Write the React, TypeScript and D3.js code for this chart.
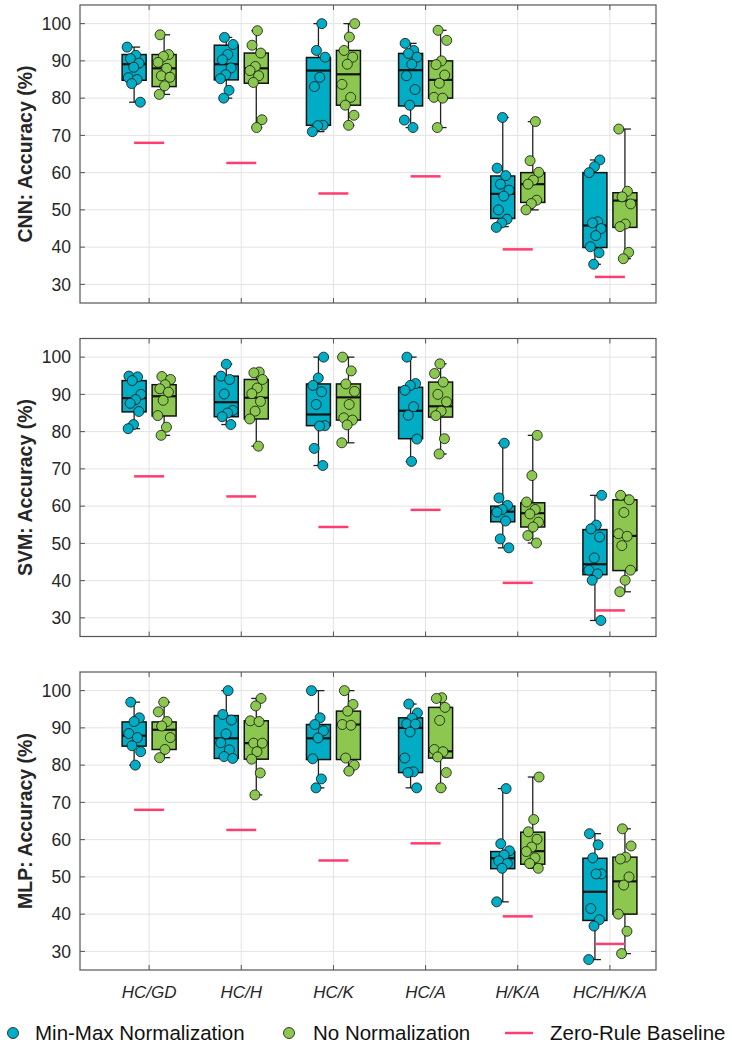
import React from "react";
import * as d3 from "d3";

// categories / models
const categories = ["HC/GD", "HC/H", "HC/K", "HC/A", "H/K/A", "HC/H/K/A"];
const baseline = [68, 62.6, 54.4, 59, 39.4, 32];
const yTicks = [30, 40, 50, 60, 70, 80, 90, 100];

// box stats: [lowWhisker, q1, median, q3, highWhisker]
const cnnMinMaxBox = [
  [78.9, 84.8, 89.1, 91.7, 93.7],
  [80, 84.9, 89.1, 94.2, 96.3],
  [71, 72.7, 87.4, 90.9, 100],
  [72.1, 77.9, 87.5, 92, 94.7],
  [45.5, 47.7, 54.3, 59.1, 74.8],
  [35.4, 39.9, 45.8, 60, 63.4],
];
const cnnNoNormBox = [
  [81, 83.1, 88, 91.7, 97],
  [72.1, 84, 88, 92.1, 98.1],
  [72.7, 78.1, 86.4, 92.8, 100],
  [72.1, 80, 84.9, 90, 98.2],
  [50, 52, 56.9, 60, 73.7],
  [36.9, 45.3, 52.5, 54.6, 71.7],
];
const cnnMinMaxPts = [
  [93.7, 91.5, 90.6, 89.4, 88.3, 85.5, 85, 83.9, 78.9],
  [96.3, 94.4, 91.7, 90.3, 88.1, 86.3, 85.2, 82.1, 80],
  [100, 92.8, 91, 85.6, 83.1, 72.7, 72.6, 71],
  [94.7, 92.8, 92, 91, 89.1, 86, 82.3, 78.1, 74.1, 72.1],
  [74.8, 61.2, 59.2, 56.9, 55.3, 53.7, 50, 47.5, 46.5, 45.3],
  [63.4, 61.6, 60, 46.8, 46.5, 45, 43.1, 40.1, 38.5, 35.4],
];
const cnnNoNormPts = [
  [97, 91.7, 91.2, 89.6, 88, 86, 85.6, 83.3, 81],
  [98.1, 94.2, 92.1, 88.5, 87.4, 86, 84.2, 74.2, 72.1],
  [100, 96.4, 92.8, 91, 89.1, 83.7, 80.2, 78.1, 75.4, 72.7],
  [98.2, 95.5, 90, 89, 86.2, 84, 80.2, 80, 72.1],
  [73.7, 63.2, 60.1, 58, 56.9, 52.6, 51.7, 50],
  [71.7, 55, 53.5, 51.6, 46.2, 45.5, 38.6, 36.9],
];

const svmMinMaxBox = [
  [80.8, 85.3, 89, 93.7, 94.9],
  [81.9, 84, 87.9, 94.9, 98.1],
  [70.9, 81.6, 84.6, 92.8, 100],
  [72, 78.1, 85.6, 91.9, 100],
  [48.8, 55.8, 58.5, 60, 76.9],
  [29.3, 41.6, 44.4, 53.7, 62.9],
];
const svmNoNormBox = [
  [79, 84.2, 89.5, 92.6, 94.8],
  [76.1, 83.4, 89.1, 94, 96],
  [77, 83.1, 89.2, 92.8, 100],
  [74, 83.9, 86.8, 93.3, 98.2],
  [50.1, 54.4, 58.1, 60.9, 79],
  [37, 42.7, 52, 61.7, 62.9],
];
const svmMinMaxPts = [
  [94.9, 94.7, 93.7, 90, 88.6, 87.6, 85.4, 81.9, 80.8],
  [98.1, 94.9, 94, 90.1, 85.7, 85, 84, 81.9],
  [100, 94.4, 92.4, 90.7, 87.3, 81.6, 81.5, 75.5, 70.9],
  [100, 92.9, 92.4, 91.1, 86.7, 84.4, 78, 72],
  [76.9, 62.2, 60.2, 59.1, 58.4, 56, 51.2, 48.8],
  [62.9, 54.9, 53.9, 51.7, 46.1, 42.8, 41.8, 40.1, 29.3],
];
const svmNoNormPts = [
  [94.8, 94, 92.6, 91.5, 90.6, 88.4, 84.3, 81.2, 79],
  [96, 95.8, 94, 91.7, 90.2, 88.1, 85.5, 83.4, 76.1],
  [100, 96.3, 92.8, 90.8, 87.3, 83.7, 83.1, 81.8, 77],
  [98.2, 95.6, 93.3, 90, 88, 85.5, 84.3, 78.1, 74],
  [79, 68.2, 61.1, 59.1, 57.9, 55.7, 54.4, 52.1, 50.1],
  [62.9, 61.7, 58.3, 52.6, 51.9, 49.4, 42.8, 40.1, 37],
];

const mlpMinMaxBox = [
  [80, 85.1, 87.9, 91.6, 96.9],
  [81.8, 81.8, 87.2, 93.3, 100],
  [73.9, 81.5, 87.2, 90.9, 100],
  [73.9, 78, 90, 92.7, 96.4],
  [43.3, 52.2, 55, 56.8, 73.7],
  [27.8, 38.3, 46, 55, 61.6],
];
const mlpNoNormBox = [
  [82, 84.2, 89.5, 91.6, 96.9],
  [72, 81.6, 85.9, 91.9, 97.9],
  [78.4, 81.5, 90.9, 94.5, 100],
  [73.9, 81.9, 83.7, 95.5, 98.1],
  [52.3, 53.4, 56.9, 62, 76.8],
  [29.4, 40, 48.8, 55.3, 62.9],
];
const mlpMinMaxPts = [
  [96.9, 92.7, 91.7, 88.5, 87.4, 85.2, 83.6, 80],
  [100, 93.6, 92.1, 88.4, 86, 84.1, 82.3, 81.8],
  [100, 92.7, 90.9, 89.2, 87.3, 81.7, 76.3, 73.9],
  [96.4, 94, 92.6, 91.1, 91, 88.9, 81.9, 78.2, 78, 73.9],
  [73.7, 58.9, 57, 55.9, 54.3, 53.6, 52.3, 43.3],
  [61.6, 58.6, 55.1, 50.8, 50.8, 41.5, 38.5, 36.8, 27.8],
];
const mlpNoNormPts = [
  [96.9, 94.3, 91.7, 90.5, 87.4, 84.2, 82],
  [97.9, 95.9, 91.9, 91.7, 85.9, 85.9, 83.6, 81.6, 77.9, 72],
  [100, 96.3, 94.5, 90.9, 90.7, 81.9, 80, 78.4],
  [98.1, 97.9, 95.5, 92, 84.2, 83.6, 82.2, 78, 73.9],
  [76.8, 65.4, 62.1, 60.1, 58, 56.8, 55.1, 53.6, 52.3],
  [62.9, 58.3, 55.3, 54.8, 50, 47.8, 40, 35.4, 29.4],
];

const panels = [
  { name: "CNN", series: [{ box: cnnMinMaxBox, pts: cnnMinMaxPts }, { box: cnnNoNormBox, pts: cnnNoNormPts }] },
  { name: "SVM", series: [{ box: svmMinMaxBox, pts: svmMinMaxPts }, { box: svmNoNormBox, pts: svmNoNormPts }] },
  { name: "MLP", series: [{ box: mlpMinMaxBox, pts: mlpMinMaxPts }, { box: mlpNoNormBox, pts: mlpNoNormPts }] },
];

const seriesNames = ["Min-Max Normalization", "No Normalization"];
const colors = ["#00adc4", "#8cc850"];
const red = "#ff3d6e";
const axisColor = "#555";
const textColor = "#262626";
const font = "Arial, 'Liberation Sans', Helvetica, sans-serif";

const W = 732, H = 1048;
const left = 80, right = 656;
const panelTop = 5, panelH = 298, panelStep = 333.5;
const boxOffset = 15, boxW = 24;

const App = () => {
  const x = d3.scaleLinear().domain([0.25, 6.5]).range([left, right]);

  return (
    <svg width={W} height={H} style={{ position: "absolute", left: 0, top: 0, background: "#fff" }} fontFamily={font}>
      {panels.map((p, pi) => {
        const top = panelTop + pi * panelStep;
        const y = d3.scaleLinear().domain([25, 105]).range([top + panelH, top]);
        return (
          <g key={p.name}>
            {/* grid */}
            {yTicks.map((t) => (
              <line key={"gy" + t} x1={left} x2={right} y1={y(t)} y2={y(t)} stroke="#e3e3e3" strokeWidth={1} />
            ))}
            {categories.map((c, i) => (
              <line key={"gx" + c} x1={x(i + 1)} x2={x(i + 1)} y1={top} y2={top + panelH} stroke="#e3e3e3" strokeWidth={1} />
            ))}
            {/* boxes */}
            {p.series.map((s, si) =>
              s.box.map((b, ci) => {
                const cx = x(ci + 1) + (si === 0 ? -boxOffset : boxOffset);
                const [lo, q1, med, q3, hi] = b;
                return (
                  <g key={"b" + si + "-" + ci}>
                    <line x1={cx} x2={cx} y1={y(hi)} y2={y(q3)} stroke="#222" strokeWidth={1.3} />
                    <line x1={cx} x2={cx} y1={y(q1)} y2={y(lo)} stroke="#222" strokeWidth={1.3} />
                    <line x1={cx - 5} x2={cx + 6} y1={y(hi)} y2={y(hi)} stroke="#222" strokeWidth={1.3} />
                    <line x1={cx - 5} x2={cx + 6} y1={y(lo)} y2={y(lo)} stroke="#222" strokeWidth={1.3} />
                    <rect x={cx - boxW / 2} y={y(q3)} width={boxW} height={y(q1) - y(q3)} fill={colors[si]} stroke="#111" strokeWidth={1.5} />
                    <line x1={cx - boxW / 2} x2={cx + boxW / 2} y1={y(med)} y2={y(med)} stroke="#111" strokeWidth={2.2} />
                  </g>
                );
              })
            )}
            {/* zero-rule baseline */}
            {baseline.map((v, ci) => (
              <line key={"zr" + ci} x1={x(ci + 1) - boxOffset} x2={x(ci + 1) + boxOffset} y1={y(v)} y2={y(v)} stroke={red} strokeWidth={2.5} />
            ))}
            {/* points */}
            {p.series.map((s, si) =>
              s.pts.map((vals, ci) => {
                const cx = x(ci + 1) + (si === 0 ? -boxOffset : boxOffset);
                return vals.map((v, j) => {
                  const jit = (((j * 0.618034 + ci * 0.37 + si * 0.21 + pi * 0.13) % 1) - 0.5) * 14;
                  return (
                    <circle key={"p" + si + ci + j} cx={cx + jit} cy={y(v)} r={5} fill={colors[si]} stroke="#111" strokeWidth={0.8} />
                  );
                });
              })
            )}
            {/* axes frame */}
            <rect x={left} y={top} width={right - left} height={panelH} fill="none" stroke={axisColor} strokeWidth={1.2} />
            {yTicks.map((t) => (
              <g key={"ty" + t}>
                <line x1={left} x2={left + 5} y1={y(t)} y2={y(t)} stroke={axisColor} />
                <line x1={right - 5} x2={right} y1={y(t)} y2={y(t)} stroke={axisColor} />
                <text x={71} y={y(t)} dy="0.35em" textAnchor="end" fontSize={17.5} fill={textColor}>{t}</text>
              </g>
            ))}
            {categories.map((c, i) => (
              <g key={"tx" + c}>
                <line x1={x(i + 1)} x2={x(i + 1)} y1={top} y2={top + 5} stroke={axisColor} />
                <line x1={x(i + 1)} x2={x(i + 1)} y1={top + panelH - 5} y2={top + panelH} stroke={axisColor} />
              </g>
            ))}
            <text
              transform={`translate(25,${top + panelH / 2}) rotate(-90)`}
              textAnchor="middle"
              dy="0.35em"
              fontSize={19.5}
              fontWeight="bold"
              fill={textColor}
            >
              {p.name + ": Accuracy (%)"}
            </text>
          </g>
        );
      })}
      {/* x category labels */}
      {categories.map((c, i) => (
        <text key={"xl" + c} x={x(i + 1)} y={992} dy="0.35em" textAnchor="middle" fontSize={17} fontStyle="italic" fill={textColor}>
          {c}
        </text>
      ))}
      {/* legend */}
      <g fontSize={20.5} fill="#111">
        <circle cx={13} cy={1033} r={5.5} fill={colors[0]} stroke="#111" strokeWidth={0.8} />
        <text x={35} y={1033} dy="0.35em">{seriesNames[0]}</text>
        <circle cx={289} cy={1033} r={5.5} fill={colors[1]} stroke="#111" strokeWidth={0.8} />
        <text x={313} y={1033} dy="0.35em">{seriesNames[1]}</text>
        <line x1={505} x2={533} y1={1033} y2={1033} stroke={red} strokeWidth={2.5} />
        <text x={550} y={1033} dy="0.35em">Zero-Rule Baseline</text>
      </g>
    </svg>
  );
};

export default App;
